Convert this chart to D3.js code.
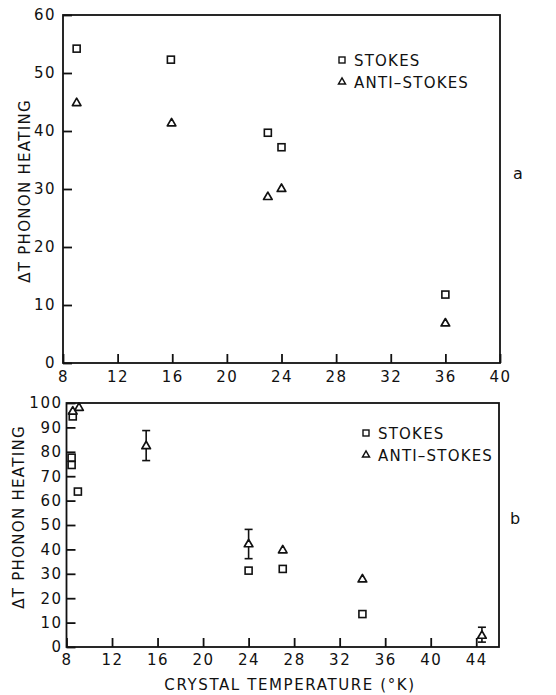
<!DOCTYPE html>
<html>
<head>
<meta charset="utf-8">
<script src="https://cdn.jsdelivr.net/npm/d3@7"></script>
<style>
  body { margin: 0; background: #fff; }
  text { font-family: "DejaVu Sans", sans-serif; fill: #111; }
</style>
</head>
<body>
<div id="chart"></div>
<script>
// panel a
var aStokesT = [9, 15.9, 23, 24, 36];
var aStokesV = [54.2, 52.3, 39.7, 37.2, 11.8];
var aAntiT = [9, 15.95, 23, 24, 36];
var aAntiV = [44.9, 41.4, 28.7, 30.1, 6.9];
var aXTicks = [8, 12, 16, 20, 24, 28, 32, 36, 40];
var aYTicks = [0, 10, 20, 30, 40, 50, 60];

// panel b
var bStokesT = [8.55, 8.45, 8.45, 9.0, 24, 27, 34];
var bStokesV = [94.5, 77.6, 74.6, 63.7, 31.3, 32, 13.5];
var bAntiT = [8.55, 9.1, 15, 24, 27, 34, 44.5];
var bAntiV = [96.7, 98.2, 82.5, 42.3, 39.8, 27.9, 4.8];
var bAntiLo = [null, null, 76.4, 36.2, null, null, 2.0];
var bAntiHi = [null, null, 88.7, 48.2, null, null, 8.1];
var bXTicks = [8, 12, 16, 20, 24, 28, 32, 36, 40, 44];
var bYTicks = [0, 10, 20, 30, 40, 50, 60, 70, 80, 90, 100];

var svg = d3.select("#chart")
    .append("svg")
    .attr("width", 556)
    .attr("height", 695);

svg.append("rect").attr("width", 556).attr("height", 695).attr("fill", "#fff");

var triangle = d3.symbol().type(d3.symbolTriangle).size(32);

function panel(opt) {
    var x = d3.scaleLinear().domain(opt.xDomain).range([opt.left, opt.right]);
    var y = d3.scaleLinear().domain(opt.yDomain).range([opt.bottom, opt.top]);

    var g = svg.append("g");

    // frame
    g.append("rect")
        .attr("x", opt.left)
        .attr("y", opt.top)
        .attr("width", opt.right - opt.left)
        .attr("height", opt.bottom - opt.top)
        .attr("fill", "none")
        .attr("stroke", "#111")
        .attr("stroke-width", 1.8);

    var xAxis = d3.axisBottom(x).tickValues(opt.xTicks).tickSize(-opt.tick).tickPadding(opt.xPad)
        .tickFormat(d3.format("d"));
    var yAxis = d3.axisLeft(y).tickValues(opt.yTicks).tickSize(-opt.tick).tickPadding(opt.yPad)
        .tickFormat(d3.format("d"));

    var gx = g.append("g")
        .attr("transform", "translate(0," + opt.bottom + ")")
        .call(xAxis);
    var gy = g.append("g")
        .attr("transform", "translate(" + opt.left + ",0)")
        .call(yAxis);

    [gx, gy].forEach(function (a) {
        a.select(".domain").remove();
        a.selectAll("line").attr("stroke", "#111").attr("stroke-width", 1.8);
        a.selectAll("text")
            .attr("fill", "#111")
            .style("font-size", "15px")
            .style("letter-spacing", "1.5px");
    });

    // error bars
    if (opt.lo) {
        opt.antiT.forEach(function (t, i) {
            if (opt.lo[i] == null) return;
            var cx = x(t);
            g.append("line").attr("x1", cx).attr("x2", cx)
                .attr("y1", y(opt.lo[i])).attr("y2", y(opt.hi[i]))
                .attr("stroke", "#111").attr("stroke-width", 1.6);
            [opt.lo[i], opt.hi[i]].forEach(function (v) {
                g.append("line").attr("x1", cx - 4).attr("x2", cx + 4)
                    .attr("y1", y(v)).attr("y2", y(v))
                    .attr("stroke", "#111").attr("stroke-width", 1.6);
            });
        });
    }

    // stokes squares
    g.selectAll(".sq")
        .data(opt.stokesT)
        .enter().append("rect")
        .attr("x", function (d) { return x(d) - 3.5; })
        .attr("y", function (d, i) { return y(opt.stokesV[i]) - 3.5; })
        .attr("width", 7)
        .attr("height", 7)
        .attr("fill", "#fff")
        .attr("stroke", "#111")
        .attr("stroke-width", 1.6);

    // anti-stokes triangles
    g.selectAll(".tri")
        .data(opt.antiT)
        .enter().append("path")
        .attr("d", triangle)
        .attr("transform", function (d, i) { return "translate(" + x(d) + "," + (y(opt.antiV[i]) + 0.5) + ")"; })
        .attr("fill", "#fff")
        .attr("stroke", "#111")
        .attr("stroke-width", 1.7)
        .attr("stroke-linejoin", "round");

    // legend
    var lg = g.append("g").attr("transform", "translate(" + opt.legend[0] + "," + opt.legend[1] + ")");
    lg.append("rect").attr("x", -3).attr("y", -3).attr("width", 6).attr("height", 6)
        .attr("fill", "none").attr("stroke", "#111").attr("stroke-width", 1.4);
    lg.append("text").attr("x", 12).attr("y", 5.5).text("STOKES")
        .style("font-size", "15px").style("letter-spacing", "1.2px");
    lg.append("path").attr("d", d3.symbol().type(d3.symbolTriangle).size(22))
        .attr("transform", "translate(0,22)")
        .attr("fill", "none").attr("stroke", "#111").attr("stroke-width", 1.4);
    lg.append("text").attr("x", 12).attr("y", 27.5).text("ANTI\u2013STOKES")
        .style("font-size", "15px").style("letter-spacing", "1.2px");

    // y title
    g.append("text")
        .attr("transform", "translate(" + opt.yTitle[0] + "," + opt.yTitle[1] + ") rotate(-90)")
        .attr("text-anchor", "middle")
        .attr("dy", "0.35em")
        .style("font-size", "15px")
        .style("letter-spacing", "1.3px")
        .text("\u0394T  PHONON HEATING");

    // panel letter
    g.append("text")
        .attr("x", opt.letter[0]).attr("y", opt.letter[1])
        .attr("text-anchor", "middle")
        .attr("dy", "0.35em")
        .style("font-size", "16px")
        .text(opt.name);
}

panel({
    name: "a",
    xDomain: [8, 40], yDomain: [0, 60],
    left: 63, right: 500, top: 15, bottom: 363,
    xTicks: aXTicks, yTicks: aYTicks,
    tick: 9, xPad: 8, yPad: 7,
    stokesT: aStokesT, stokesV: aStokesV,
    antiT: aAntiT, antiV: aAntiV,
    legend: [342, 60],
    yTitle: [25, 191],
    letter: [518, 173]
});

panel({
    name: "b",
    xDomain: [8, 46], yDomain: [0, 100],
    left: 66.5, right: 499, top: 403, bottom: 647,
    xTicks: bXTicks, yTicks: bYTicks,
    tick: 9, xPad: 7, yPad: 4,
    stokesT: bStokesT, stokesV: bStokesV,
    antiT: bAntiT, antiV: bAntiV,
    lo: bAntiLo, hi: bAntiHi,
    legend: [366, 433],
    yTitle: [19, 517],
    letter: [515, 518]
});

svg.append("text")
    .attr("x", 290)
    .attr("y", 690)
    .attr("text-anchor", "middle")
    .style("font-size", "15px")
    .style("letter-spacing", "1.6px")
    .text("CRYSTAL TEMPERATURE (\u00B0K)");
</script>
</body>
</html>
